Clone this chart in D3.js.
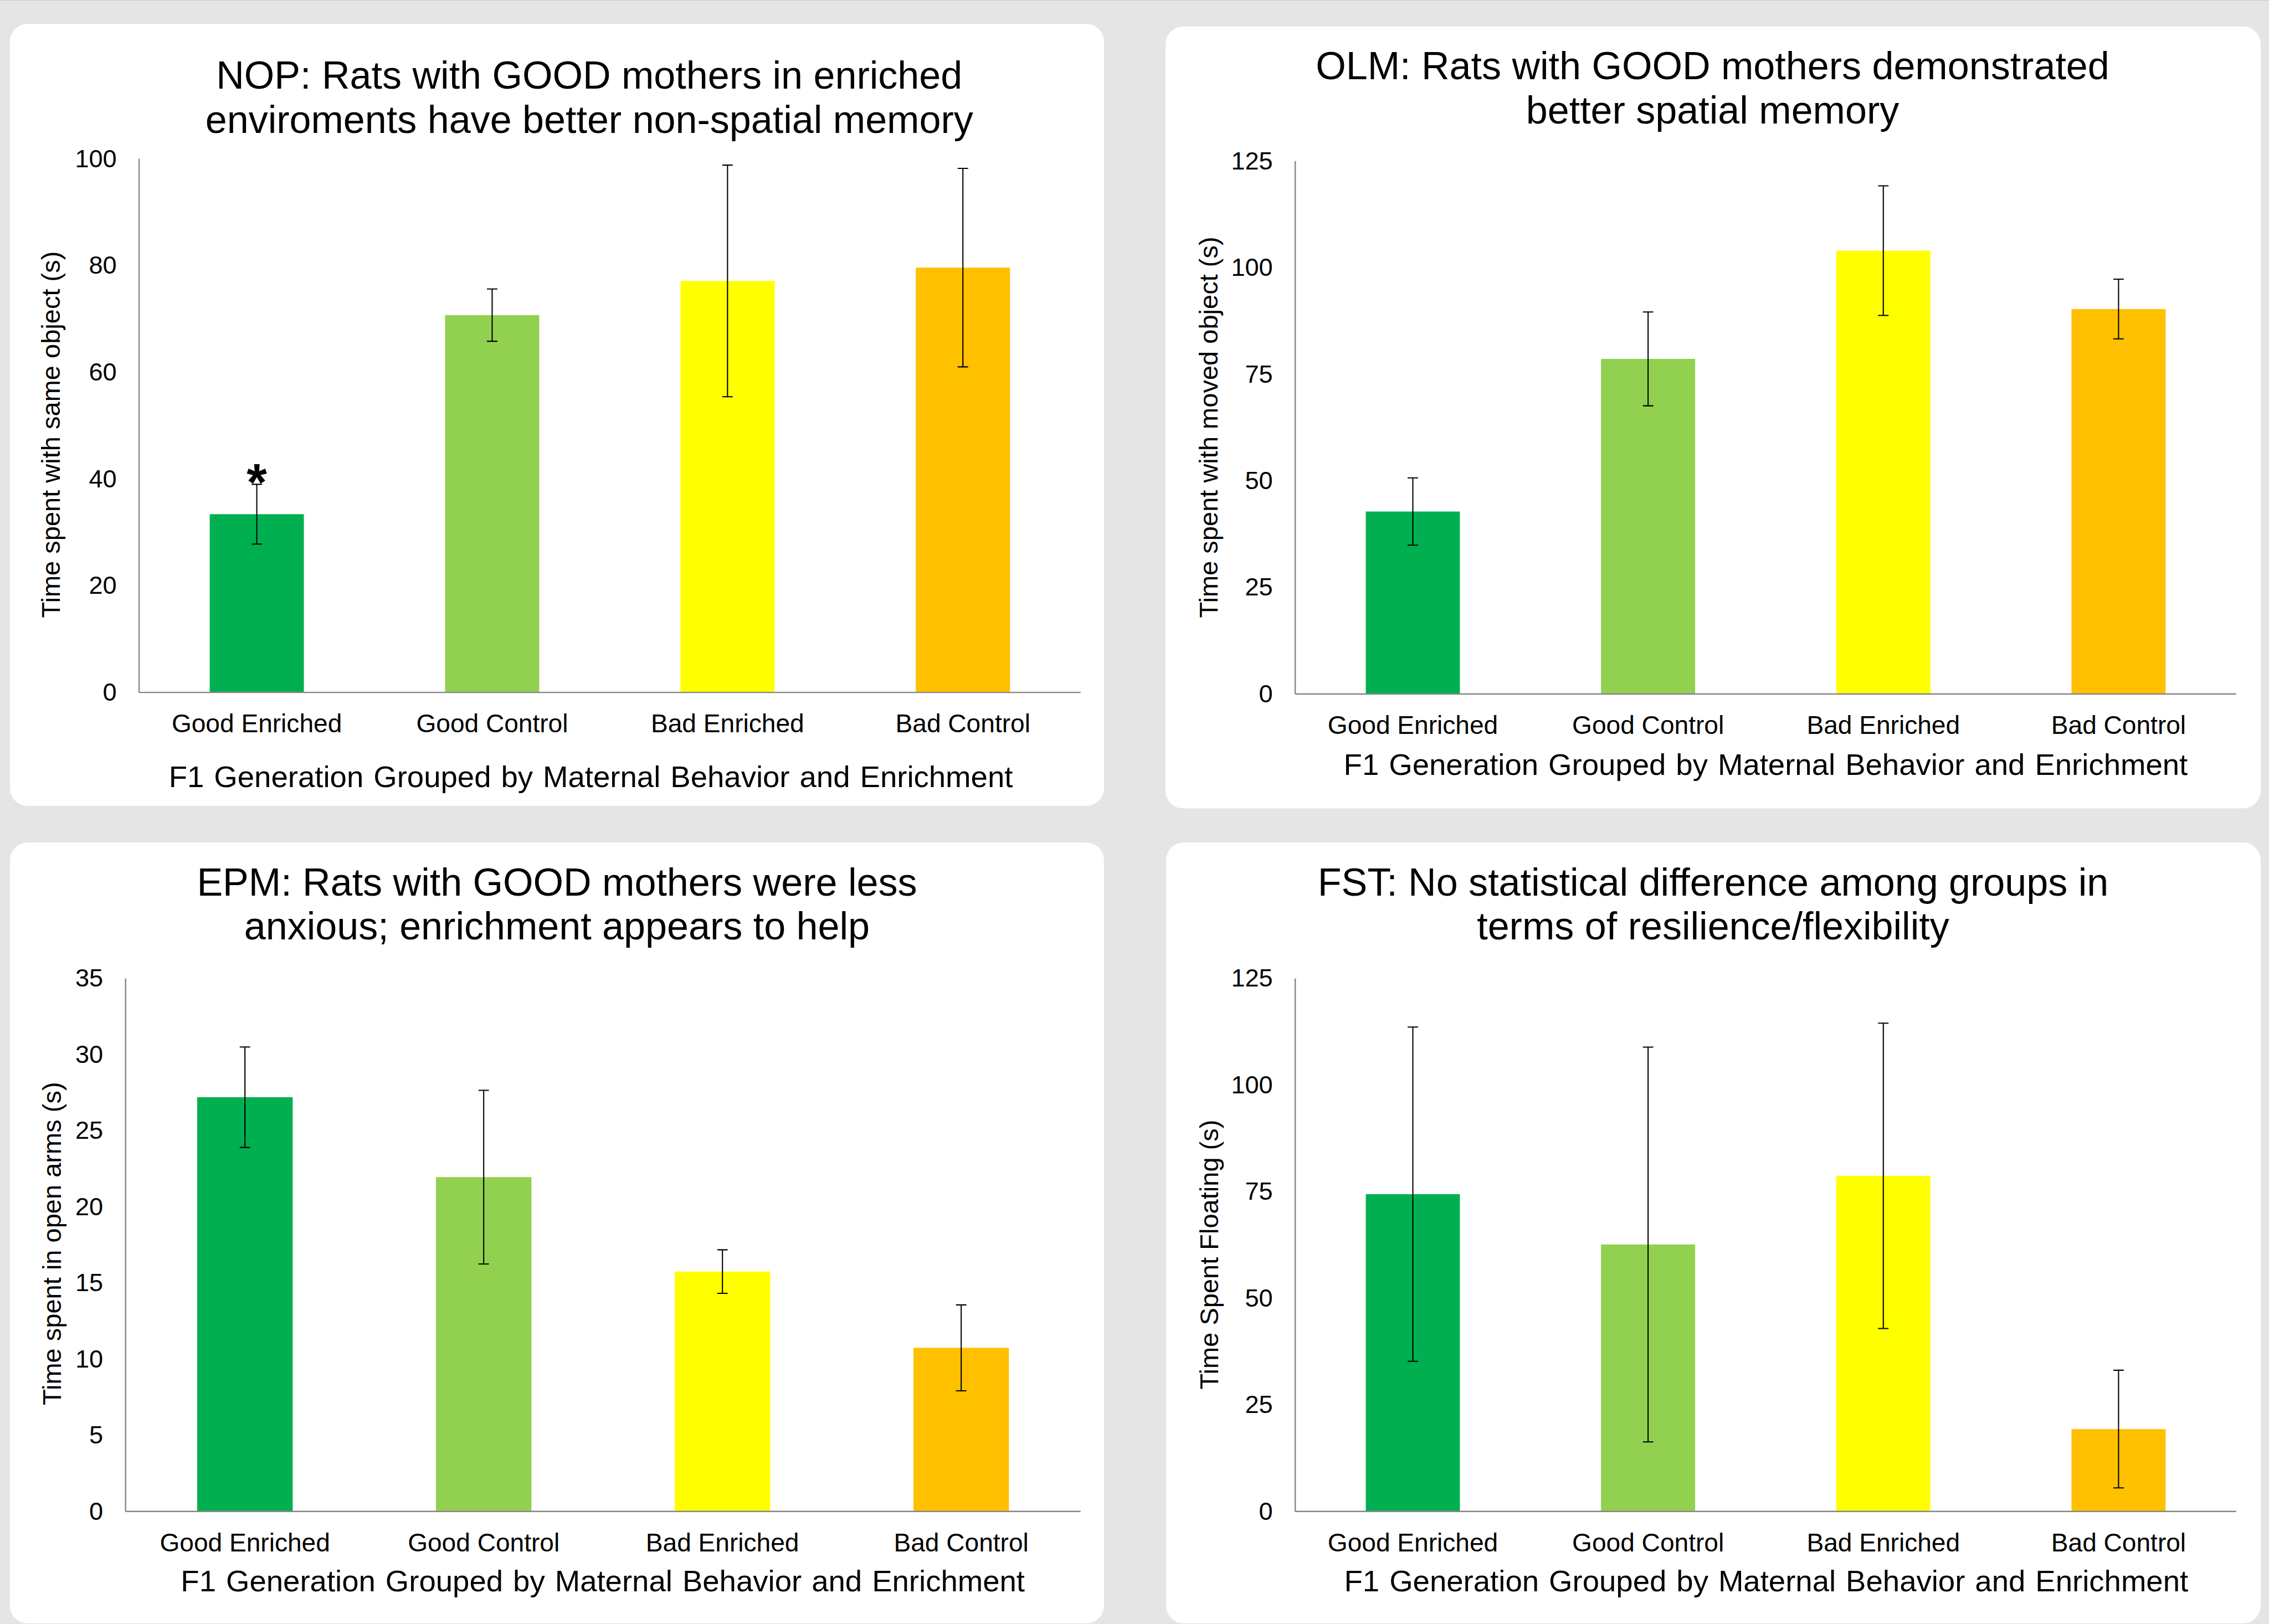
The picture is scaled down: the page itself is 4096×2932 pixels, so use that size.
<!DOCTYPE html>
<html>
<head>
<meta charset="utf-8">
<script src="https://cdn.jsdelivr.net/npm/d3@7/dist/d3.min.js"></script>
<style>
  html, body { margin: 0; padding: 0; background: #e5e5e5; overflow: hidden; }
  svg { display: block; }
  text { font-family: "Liberation Sans", Arial, sans-serif; fill: #000; }
</style>
</head>
<body>
<svg id="chart" width="4096" height="2932" viewBox="0 0 4355 3117"></svg>
<script>
// ---- data ----
const categories = ["Good Enriched", "Good Control", "Bad Enriched", "Bad Control"];
const barColors = ["#00b050", "#92d050", "#ffff00", "#ffc000"];

// Novel object placement: time with same object (s)
const nopMeans = [33.4, 70.7, 77.1, 79.6];
const nopErrors = [5.6, 4.9, 21.7, 18.6];
const nopTicks = [0, 20, 40, 60, 80, 100];
const nopSignificant = [true, false, false, false];

// Object location memory: time with moved object (s)
const olmMeans = [42.8, 78.6, 104.0, 90.3];
const olmErrors = [7.9, 11.0, 15.2, 7.0];
const olmTicks = [0, 25, 50, 75, 100, 125];

// Elevated plus maze: time in open arms (s)
const epmMeans = [27.2, 21.95, 15.75, 10.74];
const epmErrors = [3.3, 5.7, 1.43, 2.82];
const epmTicks = [0, 5, 10, 15, 20, 25, 30, 35];

// Forced swim test: time floating (s)
const fstMeans = [74.4, 62.6, 78.7, 19.3];
const fstErrors = [39.2, 46.3, 35.8, 13.8];
const fstTicks = [0, 25, 50, 75, 100, 125];

const xAxisTitle = "F1 Generation Grouped by Maternal Behavior and Enrichment";

// ---- panel layout (in 4355 x 3117 units, scaled by the viewBox) ----
const panels = [
  {
    title: ["NOP: Rats with GOOD mothers in enriched", "enviroments have better non-spatial memory"],
    yTitle: "Time spent with same object (s)",
    means: nopMeans, errors: nopErrors, ticks: nopTicks, stars: nopSignificant,
    box: [19, 45.7, 2119, 1546.7],
    plot: [267, 304.5, 2074, 1329],
    titleX: 1131, titleY: [170, 255],
    yTitlePos: [97, 834],
    xTitlePos: [1134, 1511]
  },
  {
    title: ["OLM: Rats with GOOD mothers demonstrated", "better spatial memory"],
    yTitle: "Time spent with moved object (s)",
    means: olmMeans, errors: olmErrors, ticks: olmTicks,
    box: [2237, 50.7, 4339, 1551.7],
    plot: [2486, 309, 4292, 1332],
    titleX: 3287, titleY: [152, 237],
    yTitlePos: [2320, 820],
    xTitlePos: [3389, 1487]
  },
  {
    title: ["EPM: Rats with GOOD mothers were less", "anxious; enrichment appears to help"],
    yTitle: "Time spent in open arms (s)",
    means: epmMeans, errors: epmErrors, ticks: epmTicks,
    box: [19, 1617, 2119, 3116],
    plot: [241, 1878, 2074, 2901],
    titleX: 1069, titleY: [1719, 1803],
    yTitlePos: [99, 2387],
    xTitlePos: [1157, 3055]
  },
  {
    title: ["FST: No statistical difference among groups in", "terms of resilience/flexibility"],
    yTitle: "Time Spent Floating (s)",
    means: fstMeans, errors: fstErrors, ticks: fstTicks,
    box: [2238, 1617, 4339, 3116],
    plot: [2486, 1878, 4292, 2901],
    titleX: 3288, titleY: [1719, 1803],
    yTitlePos: [2321, 2408],
    xTitlePos: [3390, 3055]
  }
];

const svg = d3.select("#chart");

svg.append("rect")
  .attr("x", 0).attr("y", 0).attr("width", 4355).attr("height", 3117)
  .attr("fill", "#e5e5e5");
svg.append("line")
  .attr("x1", 0).attr("x2", 4355).attr("y1", 0.5).attr("y2", 0.5)
  .attr("stroke", "#cfcfd4").attr("stroke-width", 1.5);

panels.forEach(p => {
  const g = svg.append("g");
  const [bx0, by0, bx1, by1] = p.box;
  const [px0, py0, px1, py1] = p.plot;

  // white rounded card
  g.append("rect")
    .attr("x", bx0).attr("y", by0)
    .attr("width", bx1 - bx0).attr("height", by1 - by0)
    .attr("rx", 34).attr("ry", 34)
    .attr("fill", "#ffffff");

  // scales
  const x = d3.scaleBand()
    .domain(categories)
    .range([px0, px1])
    .paddingInner(0.6)
    .paddingOuter(0.3);
  const y = d3.scaleLinear()
    .domain([p.ticks[0], p.ticks[p.ticks.length - 1]])
    .range([py1, py0]);
  const color = d3.scaleOrdinal().domain(categories).range(barColors);

  const rows = categories.map((c, i) => ({
    cat: c, mean: p.means[i], err: p.errors[i], star: p.stars ? p.stars[i] : false
  }));

  // bars
  g.append("g").selectAll("rect")
    .data(rows)
    .join("rect")
    .attr("x", d => x(d.cat))
    .attr("y", d => y(d.mean))
    .attr("width", x.bandwidth())
    .attr("height", d => y(0) - y(d.mean))
    .attr("fill", d => color(d.cat));

  // y axis
  const yAxis = g.append("g")
    .attr("transform", `translate(${px0},0)`)
    .call(d3.axisLeft(y).tickValues(p.ticks).tickSize(0).tickPadding(43).tickFormat(d3.format("d")));
  yAxis.select(".domain").attr("stroke", "#878787").attr("stroke-width", 2.6);
  yAxis.selectAll("text")
    .attr("font-size", 48)
    .attr("fill", "#111");

  // x axis
  const xAxis = g.append("g")
    .attr("transform", `translate(0,${py1})`)
    .call(d3.axisBottom(x).tickSize(0).tickPadding(42));
  xAxis.select(".domain").attr("stroke", "#878787").attr("stroke-width", 2.6);
  xAxis.selectAll("text")
    .attr("font-size", 49)
    .attr("fill", "#111");
  // a clean, sharp axis line without the outer caps
  xAxis.select(".domain").attr("d", `M${px0},0H${px1}`);
  yAxis.select(".domain").attr("d", `M0,${py0}V${py1}`);

  // error bars
  const cap = 10;
  const eb = g.append("g").attr("stroke", "#000").attr("stroke-width", 2.2).attr("fill", "none");
  eb.selectAll("path")
    .data(rows)
    .join("path")
    .attr("d", d => {
      const cx = x(d.cat) + x.bandwidth() / 2;
      const yt = y(d.mean + d.err), yb = y(d.mean - d.err);
      return `M${cx},${yt}V${yb}M${cx - cap},${yt}H${cx + cap}M${cx - cap},${yb}H${cx + cap}`;
    });

  // significance marker above the error bar
  g.append("g").selectAll("text")
    .data(rows.filter(d => d.star))
    .join("text")
    .attr("x", d => x(d.cat) + x.bandwidth() / 2)
    .attr("y", d => y(d.mean + d.err) + 30)
    .attr("text-anchor", "middle")
    .attr("font-size", 100)
    .attr("font-weight", "bold")
    .text("*");

  // chart title
  const t = g.append("text")
    .attr("text-anchor", "middle")
    .attr("font-size", 74.5);
  p.title.forEach((line, i) => {
    t.append("tspan").attr("x", p.titleX).attr("y", p.titleY[i]).text(line);
  });

  // axis titles
  g.append("text")
    .attr("transform", `translate(${p.yTitlePos[0]},${p.yTitlePos[1]}) rotate(-90)`)
    .attr("text-anchor", "middle")
    .attr("dy", "0.35em")
    .attr("font-size", 50)
    .attr("fill", "#111")
    .text(p.yTitle);

  g.append("text")
    .attr("x", p.xTitlePos[0]).attr("y", p.xTitlePos[1])
    .attr("text-anchor", "middle")
    .attr("font-size", 58)
    .attr("word-spacing", 3)
    .attr("fill", "#111")
    .text(xAxisTitle);
});
</script>
</body>
</html>
